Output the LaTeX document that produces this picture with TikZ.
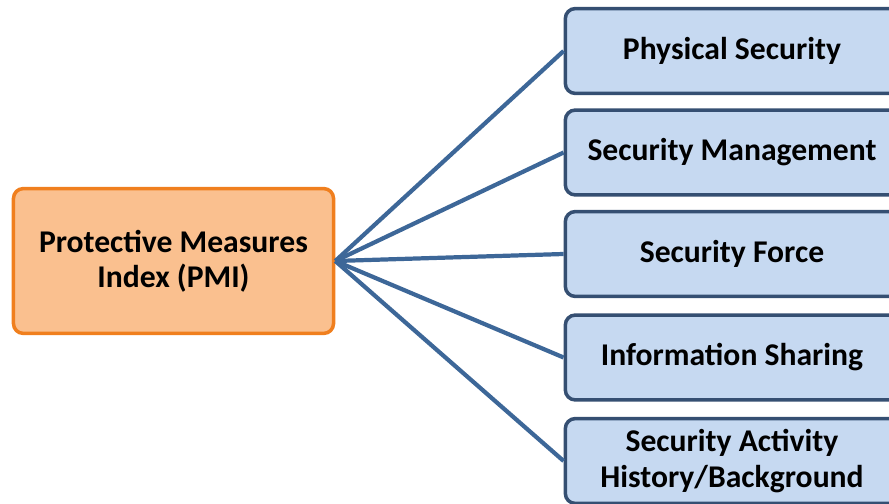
\documentclass[tikz,border=0pt]{standalone}
\usepackage{fontspec}
\setmainfont{Carlito}
\usetikzlibrary{positioning}

\definecolor{pmifill}{HTML}{FAC08F}
\definecolor{pmiedge}{HTML}{F07F1E}
\definecolor{catfill}{HTML}{C6D9F1}
\definecolor{catedge}{HTML}{354F72}
\definecolor{linkblue}{HTML}{3D6798}

\begin{document}
\begin{tikzpicture}[x=0.025cm,y=-0.025cm,
    pmibox/.style={draw=pmiedge,fill=pmifill,line width=2.5pt,rounded corners=7pt,
        minimum width=8cm,minimum height=3.62cm,align=center,
        font=\fontsize{22.5}{25}\selectfont\bfseries},
    catbox/.style={draw=catedge,fill=catfill,line width=2.5pt,rounded corners=7pt,
        minimum width=8.33cm,minimum height=2.12cm,align=center,
        font=\fontsize{22.5}{25}\selectfont\bfseries},
    link/.style={draw=linkblue,line width=3pt}]
    \clip (0,0) rectangle (889,504);

    \node[pmibox] (pmi) at (173.5,261) {Protective Measures\\Index (PMI)};

    \node[catbox] (phys) at (732,51) {Physical Security};
    \node[catbox] (mgmt) at (732,152.5) {Security Management};
    \node[catbox] (force) at (732,254) {Security Force};
    \node[catbox] (info) at (732,357.5) {Information Sharing};
    \node[catbox] (hist) at (732,461) {Security Activity\\History/Background};

    \draw[link] (pmi.east) -- (phys.west);
    \draw[link] (pmi.east) -- (mgmt.west);
    \draw[link] (pmi.east) -- (force.west);
    \draw[link] (pmi.east) -- (info.west);
    \draw[link] (pmi.east) -- (hist.west);
\end{tikzpicture}
\end{document}
